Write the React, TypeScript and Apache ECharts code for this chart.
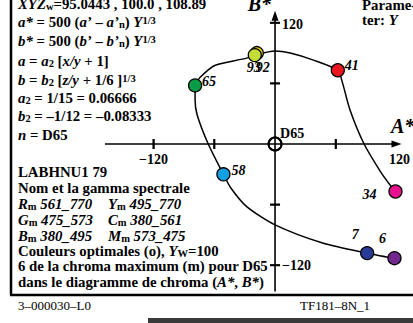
import React, { useEffect, useRef } from "react";
import * as echarts from "echarts";

// ---- data ----
const pointNames = ["65", "92", "93", "41", "34", "6", "7", "58"];
const pointA = [-79, -18, -20, 62, 119, 118, 91, -51];
const pointB = [58, 90, 88, 73, -47, -113, -108, -30];
const pointColors = ["#0b9a48", "#e4d000", "#c4dc38", "#e8161e", "#e8108c", "#72288e", "#283a96", "#12a0e2"];

const curveA = [-79, -74, -59, -28, -20, 0, 15, 38, 62, 66, 74, 88, 104, 114, 119, 141, 118, 91, 47, 0, -28, -44, -51, -66, -77, -79, -79];
const curveB = [58, 66, 78, 85, 88, 92, 90, 83, 73, 63, 34, 0, -27, -41, -47, -68, -113, -108, -98, -80, -62, -43, -30, 0, 29, 44, 58];

const aRange = [-168, 121];
const bRange = [-146, 128];
const aTicks = [-120, -60, 60];
const bTicks = [120, 60, -60, -120];
const aTickLabels = [-120, 120];
const bTickLabels = [120, -120];

// ---- styles ----
const SERIF = '"Liberation Serif", "Times New Roman", serif';
const FS = 14.8;
const LH = 15;
const labelOffsets: Record<string, number[]> = {
  "65": [14, -4],
  "92": [6, 14],
  "93": [-1, 12],
  "41": [14, -5],
  "34": [-26, 3],
  "6": [-12, -20],
  "7": [-12, -19],
  "58": [15, -4],
};

const rich = {
  i: { fontFamily: SERIF, fontSize: FS, fontWeight: "bold", fontStyle: "italic", lineHeight: LH },
  sub: { fontFamily: SERIF, fontSize: 10.5, fontWeight: "bold", lineHeight: 6, verticalAlign: "bottom" },
  sup: { fontFamily: SERIF, fontSize: 10.5, fontWeight: "bold", lineHeight: 8, verticalAlign: "top" },
};

const textLines: [number, number, string][] = [
  [18, 4, "{i|XYZ}{sub|w}=95.0443 , 100.0 , 108.89"],
  [18, 22, "{i|a*} = 500 ({i|a’} – {i|a’}{sub|n}) {i|Y}{sup|1/3}"],
  [18, 41, "{i|b*} = 500 ({i|b’} – {i|b’}{sub|n}) {i|Y}{sup|1/3}"],
  [18, 61, "{i|a} = {i|a}{sub|2} [{i|x/y} + 1]"],
  [18, 80, "{i|b} = {i|b}{sub|2} [{i|z/y} + 1/6 ]{sup|1/3}"],
  [18, 98, "{i|a}{sub|2} = 1/15 = 0.06666"],
  [18, 116, "{i|b}{sub|2} = –1/12 = –0.08333"],
  [18, 135, "{i|n} = D65"],
  [18, 172, "LABHNU1 79"],
  [18, 188, "Nom et la gamma spectrale"],
  [18, 204, "{i|R}{sub|m}{i| 561_770}"],
  [108, 204, "{i|Y}{sub|m}{i| 495_770}"],
  [18, 220, "{i|G}{sub|m}{i| 475_573}"],
  [108, 220, "{i|C}{sub|m}{i| 380_561}"],
  [18, 236, "{i|B}{sub|m}{i| 380_495}"],
  [108, 236, "{i|M}{sub|m}{i| 573_475}"],
  [18, 251, "Couleurs optimales (o), {i|Y}{sub|W}=100"],
  [18, 266, "6 de la chroma maximum (m) pour D65"],
  [18, 282, "dans le diagramme de chroma ({i|A*}, {i|B*})"],
  [362, 5, "Parame-"],
  [362, 20, "ter: {i|Y}"],
];

const fmt = (v: number) => (v < 0 ? "−" + Math.abs(v) : String(v));

const lab = { fill: "#000", fontFamily: SERIF, fontSize: 14, fontWeight: "bold" };
const axisStroke = { stroke: "#000", lineWidth: 1.6 };
const tickStroke = { stroke: "#000", lineWidth: 1.8 };
const ringStyle = { fill: "transparent", stroke: "#000", lineWidth: 1.8 };

// axis lines, arrows, ticks, D65 ring and tick labels, all placed through the grid's scales
function axisElements(coord: (v: number[]) => number[]) {
  const o = coord([0, 0]);
  const xs = coord([aRange[0], 0]);
  const xe = coord([aRange[1], 0]);
  const ys = coord([0, bRange[0]]);
  const ye = coord([0, bRange[1]]);
  const children: any[] = [
    { type: "line", shape: { x1: xs[0], y1: o[1], x2: xe[0], y2: o[1] }, style: axisStroke },
    { type: "line", shape: { x1: o[0], y1: ys[1], x2: o[0], y2: ye[1] }, style: axisStroke },
    {
      type: "polygon",
      shape: { points: [[xe[0] + 4, o[1]], [xe[0] - 6, o[1] - 3.5], [xe[0] - 6, o[1] + 3.5]] },
      style: { fill: "#000" },
    },
    {
      type: "polygon",
      shape: { points: [[o[0], ye[1] - 4], [o[0] - 3.5, ye[1] + 6], [o[0] + 3.5, ye[1] + 6]] },
      style: { fill: "#000" },
    },
    { type: "circle", shape: { cx: o[0], cy: o[1], r: 6.5 }, style: ringStyle },
    { type: "text", x: o[0] + 5, y: o[1] - 11, style: { ...lab, text: "D65", align: "left", verticalAlign: "middle" } },
  ];
  aTicks.forEach((a) => {
    const p = coord([a, 0]);
    children.push({ type: "line", shape: { x1: p[0], y1: p[1] - 5, x2: p[0], y2: p[1] + 5 }, style: tickStroke });
  });
  bTicks.forEach((b) => {
    const p = coord([0, b]);
    children.push({ type: "line", shape: { x1: p[0] - 5, y1: p[1], x2: p[0] + 5, y2: p[1] }, style: tickStroke });
  });
  aTickLabels.forEach((a) => {
    const p = coord([a, 0]);
    children.push({
      type: "text",
      x: p[0] + (a > 0 ? 3 : 0),
      y: p[1] + 15,
      style: { ...lab, text: fmt(a), align: "center", verticalAlign: "middle" },
    });
  });
  bTickLabels.forEach((b) => {
    const p = coord([0, b]);
    children.push({
      type: "text",
      x: p[0] + 7,
      y: p[1] + (b > 0 ? 2 : 0),
      style: { ...lab, text: fmt(b), align: "left", verticalAlign: "middle" },
    });
  });
  return children;
}

export default function App() {
  const ref = useRef<HTMLDivElement>(null);
  useEffect(() => {
    const chart = echarts.init(ref.current!, null, { renderer: "svg" });

    const graphics: any[] = textLines.map(([x, y, t]) => ({
      type: "text",
      x,
      y,
      silent: true,
      style: {
        text: t,
        fill: "#000",
        fontFamily: SERIF,
        fontSize: FS,
        fontWeight: "bold",
        lineHeight: LH,
        align: "left",
        verticalAlign: "middle",
        rich,
      },
    }));
    graphics.push(
      { type: "line", silent: true, shape: { x1: 11, y1: 0, x2: 11, y2: 295 }, style: { stroke: "#000", lineWidth: 2.5 } },
      { type: "line", silent: true, shape: { x1: 10, y1: 295, x2: 413, y2: 295 }, style: { stroke: "#000", lineWidth: 2.5 } },
      { type: "rect", silent: true, shape: { x: 148, y: 318, width: 265, height: 5 }, style: { fill: "#3a3a3a" } },
      {
        type: "text", x: 18, y: 305, silent: true,
        style: { text: "3–000030–L0", fill: "#000", fontFamily: SERIF, fontSize: 13, verticalAlign: "middle" },
      },
      {
        type: "text", x: 300, y: 305, silent: true,
        style: { text: "TF181–8N_1", fill: "#000", fontFamily: SERIF, fontSize: 13, verticalAlign: "middle" },
      },
      {
        type: "text", x: 391, y: 126, silent: true,
        style: { text: "A*", fill: "#000", fontFamily: SERIF, fontSize: 20, fontWeight: "bold", fontStyle: "italic", verticalAlign: "middle" },
      },
      {
        type: "text", x: 271, y: 4, silent: true,
        style: { text: "B*", fill: "#000", fontFamily: SERIF, fontSize: 20, fontWeight: "bold", fontStyle: "italic", align: "right", verticalAlign: "middle" },
      }
    );

    const hiddenAxis = {
      type: "value",
      splitLine: { show: false },
      axisTick: { show: false },
      axisLine: { show: false },
      axisLabel: { show: false },
    };

    chart.setOption({
      animation: false,
      backgroundColor: "#fff",
      grid: { left: 105, right: 15.5, top: 14.7, bottom: 31.5, containLabel: false },
      xAxis: { ...hiddenAxis, min: aRange[0], max: aRange[1] },
      yAxis: { ...hiddenAxis, min: bRange[0], max: bRange[1] },
      graphic: graphics,
      series: [
        {
          type: "custom",
          renderItem: (_p: any, api: any) => ({
            type: "group",
            children: axisElements((v) => api.coord(v)),
          }),
          data: [[0, 0]],
          clip: false,
          silent: true,
          z: 1,
        },
        {
          type: "line",
          data: curveA.map((a, i) => [a, curveB[i]]),
          smooth: 0.25,
          clip: false,
          showSymbol: false,
          lineStyle: { color: "#000", width: 1.5 },
          z: 2,
          silent: true,
        },
        {
          type: "scatter",
          data: pointA.map((a, i) => ({
            value: [a, pointB[i]],
            name: pointNames[i],
            itemStyle: { color: pointColors[i] },
            label: { offset: labelOffsets[pointNames[i]] },
          })),
          symbol: "circle",
          symbolSize: 13,
          itemStyle: { borderColor: "#000", borderWidth: 1.3, opacity: 1 },
          label: {
            show: true,
            position: "inside",
            formatter: "{b}",
            fontFamily: SERIF,
            fontSize: 14,
            fontWeight: "bold",
            fontStyle: "italic",
            color: "#000",
            textBorderWidth: 0,
          },
          z: 5,
          silent: true,
        },
      ],
    });

    // second pass: ring and ticks again as graphic elements, placed with the grid's own conversion
    const toPx = (v: number[]) => chart.convertToPixel({ xAxisIndex: 0, yAxisIndex: 0 }, v) as number[];
    const extra = axisElements(toPx)
      .filter((el) => el.type === "circle" || (el.type === "line" && Math.abs((el.shape.x2 - el.shape.x1) + (el.shape.y2 - el.shape.y1)) <= 10.5))
      .map((el, i) => ({ ...el, id: "extra" + i, silent: true, z: 3 }));
    chart.setOption({ graphic: extra });

    return () => chart.dispose();
  }, []);
  return (
    <div
      ref={ref}
      style={{ position: "absolute", left: 0, top: 0, width: 413, height: 323, background: "#fff" }}
    />
  );
}
